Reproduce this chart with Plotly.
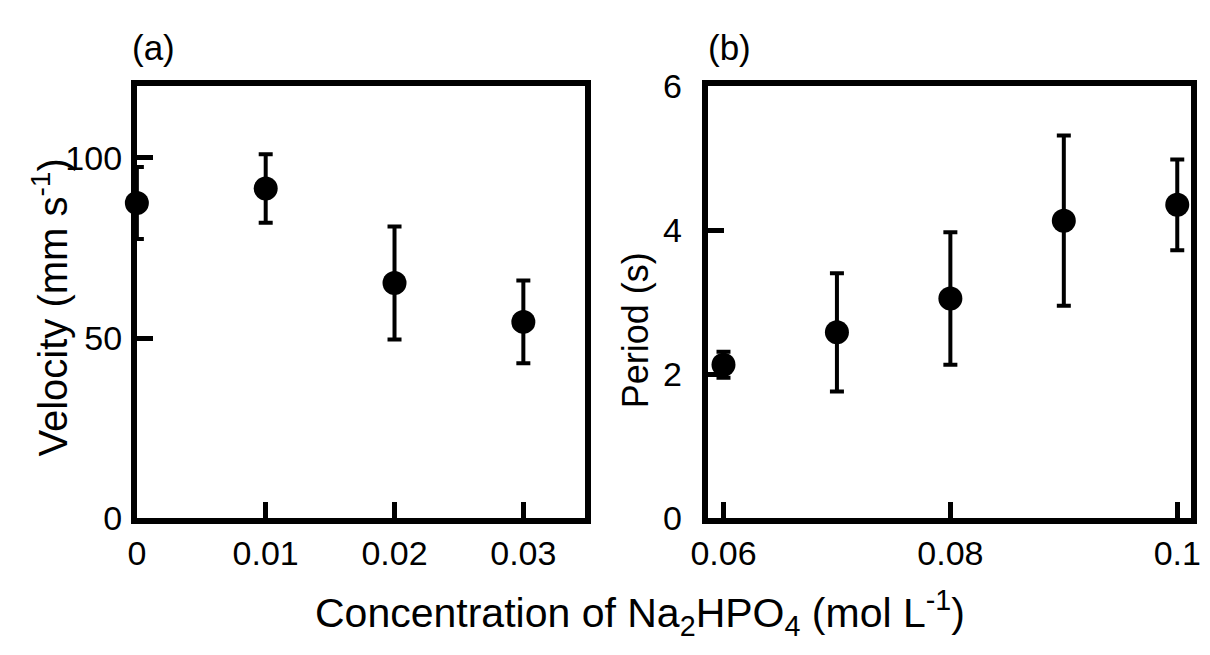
import plotly.graph_objects as go

# Panel (a): flow velocity vs. Na2HPO4 concentration
conc_a = [0, 0.01, 0.02, 0.03]
velocity = [87.5, 91.5, 65.3, 54.5]
velocity_err = [10.0, 9.5, 15.7, 11.5]

# Panel (b): oscillation period vs. Na2HPO4 concentration
conc_b = [0.06, 0.07, 0.08, 0.09, 0.10]
period = [2.13, 2.58, 3.05, 4.13, 4.35]
period_err = [0.18, 0.82, 0.92, 1.18, 0.63]

xa_ticks = [0, 0.01, 0.02, 0.03]
xa_labels = ["0", "0.01", "0.02", "0.03"]
ya_ticks = [0, 50, 100]
xb_ticks = [0.06, 0.08, 0.10]
xb_labels = ["0.06", "0.08", "0.1"]
yb_ticks = [0, 2, 4, 6]

W, H = 1210, 655
FONT = "Liberation Sans, Arial, sans-serif"
TICK_FONT = dict(family=FONT, size=34, color="black")
PANEL_FONT = dict(family=FONT, size=35, color="black")

marker = dict(size=24, color="black")


def err(vals):
    return dict(type="data", array=vals, visible=True, thickness=4, width=7, color="black")


fig = go.Figure()
fig.add_trace(go.Scatter(x=conc_a, y=velocity, mode="markers", marker=marker,
                         error_y=err(velocity_err), cliponaxis=False,
                         xaxis="x", yaxis="y", showlegend=False))
fig.add_trace(go.Scatter(x=conc_b, y=period, mode="markers", marker=marker,
                         error_y=err(period_err), cliponaxis=False,
                         xaxis="x2", yaxis="y2", showlegend=False))

ydom = [1 - 530 / H, 1 - 71 / H]

axis_common = dict(showline=True, linewidth=6, linecolor="black", mirror=True,
                   ticks="inside", ticklen=16, tickwidth=5, tickcolor="black",
                   showgrid=False, zeroline=False, tickfont=TICK_FONT)

fig.update_layout(
    width=W, height=H, autosize=False,
    margin=dict(l=0, r=0, t=0, b=0),
    paper_bgcolor="white", plot_bgcolor="white",
    xaxis=dict(domain=[122.5 / W, 580 / W], range=[0, 0.03475], anchor="y",
               tickvals=xa_ticks, ticktext=xa_labels, **axis_common),
    yaxis=dict(domain=ydom, range=[0, 120], anchor="x",
               tickvals=ya_ticks, ticklabelstandoff=2, **axis_common),
    xaxis2=dict(domain=[706 / W, 1200 / W], range=[0.05862, 0.10123], anchor="y2",
                tickvals=xb_ticks, ticktext=xb_labels, **axis_common),
    yaxis2=dict(domain=ydom, range=[0, 6], anchor="x2",
                tickvals=yb_ticks, ticklabelstandoff=13, **axis_common),
)

annotations = [
    dict(text="(a)", x=139 / W, y=1 - 30 / H, font=PANEL_FONT),
    dict(text="(b)", x=728 / W, y=1 - 30 / H, font=PANEL_FONT),
    dict(text="Velocity (mm s<sup>-1</sup>)", x=34 / W, y=1 - 306 / H, textangle=-90,
         font=dict(family=FONT, size=40, color="black")),
    dict(text="Period (s)", x=632 / W, y=1 - 330 / H, textangle=-90,
         font=dict(family=FONT, size=36, color="black")),
    dict(text="Concentration of Na<sub>2</sub>HPO<sub>4</sub> (mol L<sup>-1</sup>)",
         x=637 / W, y=1 - 631 / H, font=dict(family=FONT, size=41, color="black")),
]
for a in annotations:
    a.update(xref="paper", yref="paper", xanchor="center", yanchor="middle", showarrow=False)
fig.update_layout(annotations=annotations)

fig.write_html("out.html")
